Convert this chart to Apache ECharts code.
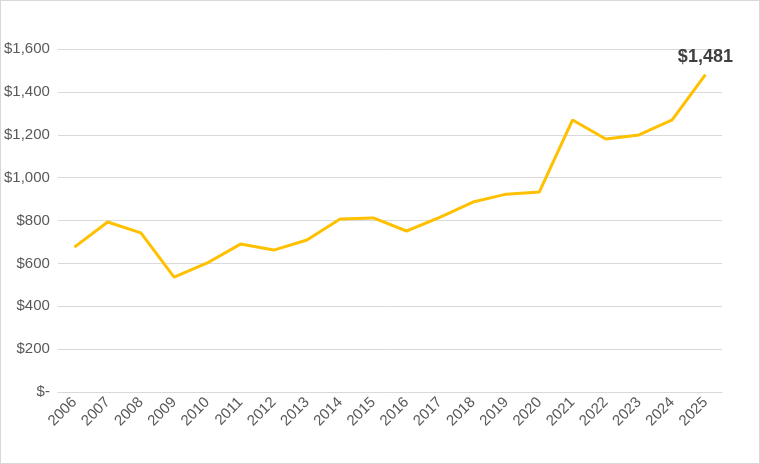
<!DOCTYPE html>
<html><head><meta charset="utf-8">
<script src="https://cdn.jsdelivr.net/npm/echarts@6/dist/echarts.min.js"></script>
<style>html,body{margin:0;padding:0;background:#fff}#c{width:760px;height:464px;box-sizing:border-box;border:1px solid #d9d9d9}</style>
</head><body><div id="c"></div>
<script>
const years = ['2006','2007','2008','2009','2010','2011','2012','2013','2014','2015','2016','2017','2018','2019','2020','2021','2022','2023','2024','2025'];
const values = [676,793,742,536,602,690,662,709,807,812,751,815,886,923,933,1269,1180,1199,1269,1481];
const chart = echarts.init(document.getElementById('c'));
chart.setOption({
  animation:false,
  grid:{left:52,right:37,top:48,bottom:71},
  xAxis:{type:'category',data:years,
    axisLine:{lineStyle:{color:'#d9d9d9'}},axisTick:{show:false},
    axisLabel:{rotate:45,color:'#595959',fontSize:15,fontFamily:'Liberation Sans, Arial',margin:8}},
  yAxis:{type:'value',min:0,max:1600,interval:200,
    splitLine:{lineStyle:{color:'#d9d9d9'}},axisLine:{show:false},axisTick:{show:false},
    axisLabel:{color:'#595959',fontSize:15,fontFamily:'Liberation Sans, Arial',
      formatter:v=>v===0?'$-':'$'+v.toLocaleString('en-US')}},
  series:[{type:'line',symbol:'circle',symbolSize:0.1,showSymbol:true,
    data:values.map((v,i)=>i===values.length-1?{value:v,label:{show:true,position:'top',distance:8,formatter:'$'+v.toLocaleString('en-US'),fontSize:18,fontWeight:'bold',color:'#404040',fontFamily:'Liberation Sans, Arial'}}:v),
    itemStyle:{color:'#FFC000'},lineStyle:{color:'#FFC000',width:3}}]
});
</script></body></html>
